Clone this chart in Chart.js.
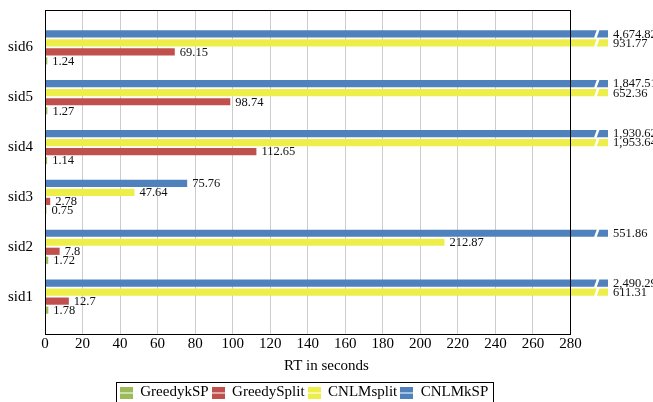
<!DOCTYPE html>
<html>
<head>
<meta charset="utf-8">
<script src="https://cdn.jsdelivr.net/npm/chart.js@4.4.1/dist/chart.umd.min.js"></script>
<style>
  html, body { margin: 0; padding: 0; background: #fff; }
  #wrap { width: 653px; height: 402px; }
</style>
</head>
<body>
<div id="wrap"><canvas id="myChart"></canvas></div>
<script>
// data (bottom to top: sid1 ... sid6)
const categories = ['sid1', 'sid2', 'sid3', 'sid4', 'sid5', 'sid6'];
const greedyKSP   = [1.78, 1.72, 0.75, 1.14, 1.27, 1.24];
const greedySplit = [12.7, 7.8, 2.78, 112.65, 98.74, 69.15];
const cnlmSplit   = [611.31, 212.87, 47.64, 1953.64, 652.36, 931.77];
const cnlmKSP     = [2490.29, 551.86, 75.76, 1930.62, 1847.51, 4674.82];
const xTicks = [0, 20, 40, 60, 80, 100, 120, 140, 160, 180, 200, 220, 240, 260, 280];

const colors = {
  green: '#9bbb59',
  red: '#c0504d',
  yellow: '#eeee4a',
  blue: '#4f81bd'
};

const serif = '"Liberation Serif", "DejaVu Serif", serif';
const xMaxAxis = 280;   // frame edge
const xClip = 300;      // bars are cut here
const fmt = new Intl.NumberFormat('en-US', {maximumFractionDigits: 2});

// small legend icon: two stacked bars like pgfplots
function legendIcon(c){
  const cv = document.createElement('canvas');
  cv.width = 13; cv.height = 12;
  const g = cv.getContext('2d');
  g.fillStyle = c;
  g.fillRect(0, 0, 13, 6);
  g.fillRect(0, 7, 13, 5);
  return cv;
}

function series(label, values, color){
  return {
    label: label,
    data: values.map((v, i) => ({x: v, y: i})),
    backgroundColor: color,
    borderWidth: 0,
    pointStyle: legendIcon(color),
    categoryPercentage: 0.723,
    barPercentage: 0.8
  };
}

// top bar first in each group
const data = {
  datasets: [
    series('CNLMkSP', cnlmKSP, colors.blue),
    series('CNLMsplit', cnlmSplit, colors.yellow),
    series('GreedySplit', greedySplit, colors.red),
    series('GreedykSP', greedyKSP, colors.green)
  ]
};

// frame, value labels, break marks, legend border
const decorations = {
  id: 'decorations',
  afterDatasetsDraw(chart){
    const ctx = chart.ctx;
    const xs = chart.scales.x;
    const area = chart.chartArea;
    const x0 = xs.getPixelForValue(0);
    const x1 = xs.getPixelForValue(xMaxAxis);
    ctx.save();
    // break marks on cut bars
    chart.data.datasets.forEach((ds, di) => {
      const meta = chart.getDatasetMeta(di);
      meta.data.forEach((bar, i) => {
        if (ds.data[i].x > xClip) {
          const bx = xs.getPixelForValue(294);
          const h = bar.height / 2;
          ctx.strokeStyle = '#fff';
          ctx.lineWidth = 2.5;
          ctx.beginPath();
          ctx.moveTo(bx - 1.5, bar.y + h + 0.5);
          ctx.lineTo(bx + 1.5, bar.y - h - 0.5);
          ctx.stroke();
        }
      });
    });
    // frame
    ctx.strokeStyle = '#000';
    ctx.lineWidth = 1;
    ctx.strokeRect(Math.round(x0) + 0.5, Math.round(area.top) + 0.5,
                   Math.round(x1) - Math.round(x0), Math.round(area.bottom) - Math.round(area.top));
    // value labels
    ctx.fillStyle = '#111';
    ctx.font = '12.5px ' + serif;
    ctx.textBaseline = 'middle';
    ctx.textAlign = 'left';
    chart.data.datasets.forEach((ds, di) => {
      const meta = chart.getDatasetMeta(di);
      meta.data.forEach((bar, i) => {
        const ex = Math.min(bar.x, area.right);
        ctx.fillText(fmt.format(ds.data[i].x), ex + 5, bar.y + 0.5);
      });
    });
    ctx.restore();
  },
  afterDraw(chart){
    const lg = chart.legend;
    if (!lg || !lg.legendHitBoxes.length) return;
    const boxes = lg.legendHitBoxes;
    const left = Math.min(...boxes.map(b => b.left)) - 4;
    const right = Math.max(...boxes.map(b => b.left + b.width)) + 4;
    const top = boxes[0].top - 3;
    const ctx = chart.ctx;
    ctx.save();
    ctx.strokeStyle = '#000';
    ctx.lineWidth = 1;
    ctx.strokeRect(Math.round(left) + 0.5, Math.round(top) + 0.5, Math.round(right - left), 30);
    ctx.restore();
  }
};

const config = {
  type: 'bar',
  data,
  options: {
    indexAxis: 'y',
    responsive: true,
    maintainAspectRatio: false,
    animation: false,
    layout: { padding: { top: 10, right: 45, left: 0, bottom: 0 } },
    scales: {
      x: {
        type: 'linear',
        min: 0,
        max: xClip,
        afterBuildTicks(scale){
          scale.ticks = xTicks.map(v => ({value: v}));
        },
        ticks: {
          color: '#000',
          font: { family: serif, size: 15 },
          padding: 1,
          maxRotation: 0,
          autoSkip: false
        },
        grid: {
          drawTicks: false,
          lineWidth: 1,
          color: c => (c.tick && (c.tick.value === 0 || c.tick.value >= xMaxAxis)) ? 'rgba(0,0,0,0)' : '#cccccc'
        },
        border: { display: false },
        title: {
          display: true,
          text: 'RT in seconds',
          color: '#000',
          font: { family: serif, size: 15 },
          padding: { top: 4, bottom: 7 }
        },
        afterFit(scale){ scale.height = 48; }
      },
      y: {
        type: 'linear',
        min: -0.75,
        max: 5.75,
        offset: false,
        ticks: {
          stepSize: 1,
          includeBounds: false,
          color: '#000',
          font: { family: serif, size: 15 },
          padding: 12,
          callback: v => Number.isInteger(v) ? categories[v] : ''
        },
        grid: { display: false, drawTicks: false, offset: false },
        border: { display: false },
        afterFit(scale){
          scale.width = 45;
          scale.paddingTop = 0;
          scale.paddingBottom = 0;
        }
      }
    },
    plugins: {
      legend: {
        position: 'bottom',
        maxHeight: 20,
        labels: {
          usePointStyle: true,
          boxWidth: 13,
          padding: 3,
          color: '#000',
          font: { family: serif, size: 15 },
          sort: (a, b) => b.datasetIndex - a.datasetIndex
        }
      },
      tooltip: { enabled: false }
    }
  },
  plugins: [decorations]
};

const myChart = new Chart(document.getElementById('myChart'), config);
</script>
</body>
</html>
